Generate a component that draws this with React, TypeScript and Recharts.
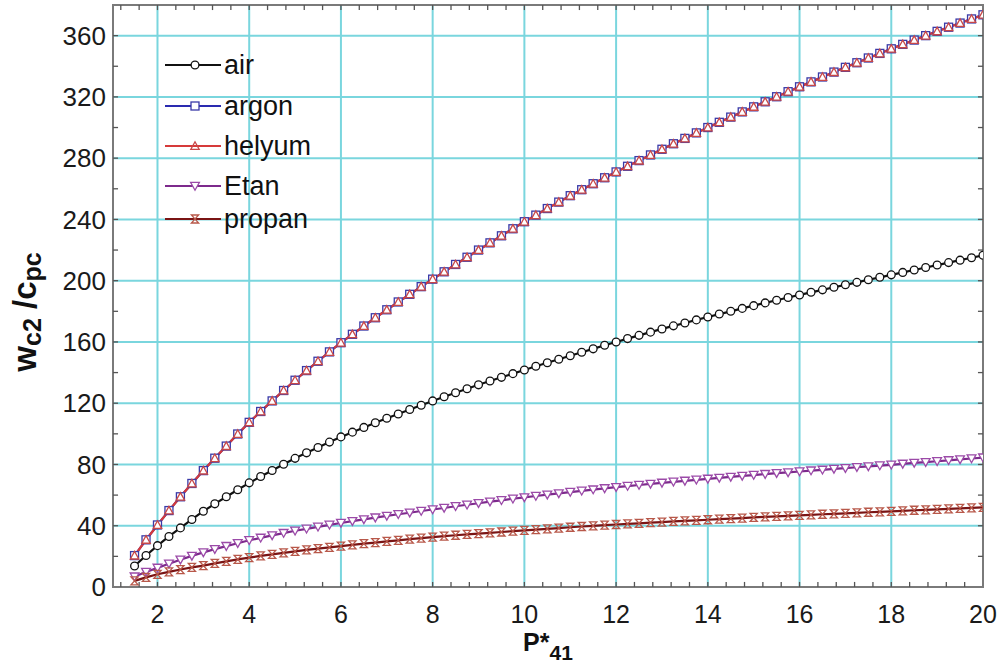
import React from 'react';
import {
  LineChart,
  Line,
  XAxis,
  YAxis,
  CartesianGrid,
  Legend,
  Label,
  ReferenceLine,
  ReferenceArea,
} from 'recharts';

// pressure ratio P*41 (one point every 0.25)
const pressure = [
  1.5, 1.75,
  2, 2.25, 2.5, 2.75,
  3, 3.25, 3.5, 3.75,
  4, 4.25, 4.5, 4.75,
  5, 5.25, 5.5, 5.75,
  6, 6.25, 6.5, 6.75,
  7, 7.25, 7.5, 7.75,
  8, 8.25, 8.5, 8.75,
  9, 9.25, 9.5, 9.75,
  10, 10.25, 10.5, 10.75,
  11, 11.25, 11.5, 11.75,
  12, 12.25, 12.5, 12.75,
  13, 13.25, 13.5, 13.75,
  14, 14.25, 14.5, 14.75,
  15, 15.25, 15.5, 15.75,
  16, 16.25, 16.5, 16.75,
  17, 17.25, 17.5, 17.75,
  18, 18.25, 18.5, 18.75,
  19, 19.25, 19.5, 19.75,
  20,
];

const air = [
  13.7, 20.6,
  27, 33, 38.6, 44.1,
  49.5, 54.3, 58.9, 63.5,
  68, 72.1, 76.1, 80.1,
  84, 87.6, 91.1, 94.6,
  98, 101.1, 104.2, 107.2,
  110.2, 113, 115.9, 118.7,
  121.5, 124.2, 126.8, 129.4,
  132, 134.5, 136.9, 139.3,
  141.7, 144.1, 146.4, 148.7,
  151, 153.3, 155.5, 157.8,
  160, 162.2, 164.3, 166.4,
  168.5, 170.5, 172.4, 174.4,
  176.3, 178.2, 180, 181.9,
  183.7, 185.5, 187.2, 189,
  190.7, 192.4, 194, 195.7,
  197.3, 198.9, 200.6, 202.2,
  203.8, 205.4, 207, 208.6,
  210.2, 211.8, 213.4, 215,
  216.6,
];

const argon = [
  20.5, 30.8,
  40.5, 49.9, 58.9, 67.6,
  76, 84.1, 92, 99.9,
  107.5, 114.6, 121.5, 128.3,
  135, 141.3, 147.4, 153.5,
  159.5, 165, 170.4, 175.8,
  181, 186.1, 191.1, 196.1,
  201, 205.8, 210.6, 215.3,
  220, 224.7, 229.3, 233.9,
  238.5, 242.8, 247.1, 251.3,
  255.5, 259.4, 263.3, 267.2,
  271, 274.7, 278.4, 282.1,
  285.8, 289.4, 292.9, 296.5,
  300, 303.4, 306.8, 310.2,
  313.5, 316.8, 320.1, 323.4,
  326.6, 329.8, 333, 336.2,
  339.3, 342.3, 345.4, 348.4,
  351.4, 354.3, 357.1, 360,
  362.8, 365.5, 368.2, 370.9,
  373.6,
];

const helyum = [
  20.5, 30.8,
  40.5, 49.9, 58.9, 67.6,
  76, 84.1, 92, 99.9,
  107.5, 114.6, 121.5, 128.3,
  135, 141.3, 147.4, 153.5,
  159.5, 165, 170.4, 175.8,
  181, 186.1, 191.1, 196.1,
  201, 205.8, 210.6, 215.3,
  220, 224.7, 229.3, 233.9,
  238.5, 242.8, 247.1, 251.3,
  255.5, 259.4, 263.3, 267.2,
  271, 274.7, 278.4, 282.1,
  285.8, 289.4, 292.9, 296.5,
  300, 303.4, 306.8, 310.2,
  313.5, 316.8, 320.1, 323.4,
  326.6, 329.8, 333, 336.2,
  339.3, 342.3, 345.4, 348.4,
  351.4, 354.3, 357.1, 360,
  362.8, 365.5, 368.2, 370.9,
  373.6,
];

const etan = [
  6.8, 9.8,
  12.5, 15.2, 17.8, 20.3,
  22.6, 24.7, 26.7, 28.6,
  30.5, 32.1, 33.7, 35.2,
  36.7, 38, 39.3, 40.6,
  41.8, 43, 44.1, 45.3,
  46.4, 47.5, 48.5, 49.6,
  50.6, 51.6, 52.7, 53.7,
  54.7, 55.7, 56.6, 57.6,
  58.5, 59.4, 60.3, 61.1,
  62, 62.8, 63.6, 64.4,
  65.2, 65.9, 66.6, 67.3,
  68, 68.7, 69.3, 70,
  70.6, 71.2, 71.9, 72.5,
  73.1, 73.7, 74.3, 74.8,
  75.4, 76, 76.5, 77.1,
  77.6, 78.2, 78.7, 79.3,
  79.8, 80.4, 81, 81.5,
  82.1, 82.7, 83.3, 83.9,
  84.5,
];

const propan = [
  4, 6.3,
  8.3, 9.9, 11.4, 12.8,
  14, 15.4, 16.7, 18,
  19.2, 20.3, 21.3, 22.3,
  23.3, 24.2, 25, 25.9,
  26.7, 27.5, 28.3, 29,
  29.8, 30.5, 31.2, 31.9,
  32.6, 33.2, 33.8, 34.3,
  34.9, 35.4, 35.9, 36.5,
  37, 37.5, 38, 38.5,
  39, 39.5, 39.9, 40.4,
  40.8, 41.2, 41.6, 42,
  42.4, 42.8, 43.2, 43.5,
  43.9, 44.3, 44.7, 45,
  45.4, 45.8, 46.1, 46.5,
  46.8, 47.1, 47.5, 47.8,
  48.1, 48.4, 48.8, 49.1,
  49.4, 49.7, 50.1, 50.4,
  50.7, 51, 51.4, 51.7,
  52,
];

const xTicks = [2, 4, 6, 8, 10, 12, 14, 16, 18, 20];
const yTicks = [0, 40, 80, 120, 160, 200, 240, 280, 320, 360];
const xMinorTicks = [
  1.2, 1.6, 2, 2.4, 2.8, 3.2, 3.6, 4, 4.4, 4.8, 5.2, 5.6, 6, 6.4, 6.8, 7.2,
  7.6, 8, 8.4, 8.8, 9.2, 9.6, 10, 10.4, 10.8, 11.2, 11.6, 12, 12.4, 12.8,
  13.2, 13.6, 14, 14.4, 14.8, 15.2, 15.6, 16, 16.4, 16.8, 17.2, 17.6, 18,
  18.4, 18.8, 19.2, 19.6,
];
const yMinorTicks = [
  20, 40, 60, 80, 100, 120, 140, 160, 180, 200, 220, 240, 260, 280, 300, 320,
  340, 360,
];

const X_MIN = 1.03;
const X_MAX = 20;
const Y_MAX = 380;

const FONT = '"Liberation Sans", Arial, Helvetica, sans-serif';

const rows = pressure.map((p, i) => ({
  p,
  air: air[i],
  argon: argon[i],
  helyum: helyum[i],
  Etan: etan[i],
  propan: propan[i],
}));

type Marker = 'circle' | 'square' | 'triUp' | 'triDown' | 'hourglass';

const drawMarker = (kind: Marker, cx: number, cy: number, color: string, key?: string) => {
  switch (kind) {
    case 'circle':
      return <circle key={key} cx={cx} cy={cy} r={3.9} fill="#fff" stroke={color} strokeWidth={1.3} />;
    case 'square':
      return (
        <rect key={key} x={cx - 4} y={cy - 4} width={8} height={8} fill="#fff" stroke={color} strokeWidth={1.3} />
      );
    case 'triUp':
      return (
        <path
          key={key}
          d={`M${cx - 4.2},${cy + 3.4} L${cx + 4.2},${cy + 3.4} L${cx},${cy - 4.2} Z`}
          fill="none"
          stroke={color}
          strokeWidth={1.3}
        />
      );
    case 'triDown':
      return (
        <path
          key={key}
          d={`M${cx - 4.4},${cy - 3.6} L${cx + 4.4},${cy - 3.6} L${cx},${cy + 4.2} Z`}
          fill="#fff"
          stroke={color}
          strokeWidth={1.3}
        />
      );
    default:
      return (
        <path
          key={key}
          d={`M${cx - 3.6},${cy - 4} L${cx + 3.6},${cy - 4} L${cx - 3.6},${cy + 4} L${cx + 3.6},${cy + 4} Z`}
          fill="none"
          stroke={color}
          strokeWidth={1.3}
        />
      );
  }
};

const series = [
  { key: 'air', line: '#111111', mark: '#111111', marker: 'circle' as Marker },
  { key: 'argon', line: '#2a2ab0', mark: '#3a3aa8', marker: 'square' as Marker },
  { key: 'helyum', line: '#d63a3a', mark: '#c84848', marker: 'triUp' as Marker },
  { key: 'Etan', line: '#7d2a8c', mark: '#9b4aa8', marker: 'triDown' as Marker },
  { key: 'propan', line: '#7a1414', mark: '#b8584a', marker: 'hourglass' as Marker },
];

// legend rows (offsets inside the legend box)
const legendRowY = [20, 61, 101, 141, 174];

const LegendBox = () => (
  <svg width={210} height={195} style={{ display: 'block' }}>
    {series.map((s, i) => {
      const y = legendRowY[i];
      return (
        <g key={s.key}>
          <line x1={5} x2={61} y1={y} y2={y} stroke={s.line} strokeWidth={2.2} />
          {drawMarker(s.marker, 35, y, s.mark)}
          <text x={64} y={y + 9} fontSize={27} fontFamily={FONT} fill="#111">
            {s.key}
          </text>
        </g>
      );
    })}
  </svg>
);

const XTitle = (props: any) => {
  const vb = props.viewBox || { x: 113, y: 587, width: 870 };
  const cx = vb.x + vb.width / 2;
  return (
    <text x={cx} y={vb.y + 64} textAnchor="middle" fontFamily={FONT} fontWeight="bold" fill="#111">
      <tspan fontSize={25}>P*</tspan>
      <tspan fontSize={21} dy={9}>41</tspan>
    </text>
  );
};

const YTitle = (props: any) => {
  const vb = props.viewBox || { x: 0, y: 5, width: 113, height: 582 };
  const cx = vb.x + 36;
  const cy = vb.y + vb.height / 2 + 16;
  return (
    <text
      x={cx}
      y={cy}
      transform={`rotate(-90 ${cx} ${cy})`}
      textAnchor="middle"
      fontFamily={FONT}
      fontWeight="bold"
      fill="#111"
    >
      <tspan fontSize={33}>w</tspan>
      <tspan fontSize={25} dy={5}>c2</tspan>
      <tspan fontSize={33} dy={-5}> /c</tspan>
      <tspan fontSize={25} dy={5}>pc</tspan>
    </text>
  );
};

const App = () => {
  return (
    <div style={{ position: 'absolute', left: 0, top: 0, background: '#fff' }}>
      <LineChart
        width={1001}
        height={671}
        data={rows}
        margin={{ top: 5, right: 18, bottom: 0, left: 0 }}
      >
        <CartesianGrid stroke="#7ad6de" strokeWidth={2} />
        <XAxis
          dataKey="p"
          type="number"
          domain={[X_MIN, X_MAX]}
          ticks={xTicks}
          allowDataOverflow
          height={84}
          axisLine={false}
          tickLine={false}
          tickSize={0}
          tickMargin={18}
          tick={{ fontSize: 25, fill: '#1a1a1a', fontFamily: FONT }}
        >
          <Label content={XTitle} />
        </XAxis>
        <YAxis
          type="number"
          domain={[0, Y_MAX]}
          ticks={yTicks}
          allowDataOverflow
          width={113}
          axisLine={false}
          tickLine={false}
          tickSize={0}
          tickMargin={7}
          tick={{ fontSize: 26, fill: '#1a1a1a', fontFamily: FONT }}
        >
          <Label content={YTitle} />
        </YAxis>

        {/* plot frame */}
        <ReferenceArea x1={X_MIN} x2={X_MAX} y1={0} y2={Y_MAX} fill="none" stroke="#7a7a7a" strokeWidth={2} />

        {/* minor ticks, pointing inward */}
        {xMinorTicks.map((t) => (
          <ReferenceLine
            key={`xb-${t}`}
            segment={[{ x: t, y: 0 }, { x: t, y: 3.3 }]}
            stroke="#555"
            strokeWidth={1.3}
          />
        ))}
        {xMinorTicks.map((t) => (
          <ReferenceLine
            key={`xt-${t}`}
            segment={[{ x: t, y: Y_MAX }, { x: t, y: Y_MAX - 3.3 }]}
            stroke="#555"
            strokeWidth={1.3}
          />
        ))}
        {yMinorTicks.map((t) => (
          <ReferenceLine
            key={`yl-${t}`}
            segment={[{ x: X_MIN, y: t }, { x: X_MIN + 0.11, y: t }]}
            stroke="#555"
            strokeWidth={1.3}
          />
        ))}
        {yMinorTicks.map((t) => (
          <ReferenceLine
            key={`yr-${t}`}
            segment={[{ x: X_MAX, y: t }, { x: X_MAX - 0.11, y: t }]}
            stroke="#555"
            strokeWidth={1.3}
          />
        ))}

        <Legend
          layout="vertical"
          align="center"
          verticalAlign="middle"
          content={() => <LegendBox />}
          wrapperStyle={{ left: 160, top: 45, width: 210, height: 195 }}
        />

        {series.map((s) => (
          <Line
            key={s.key}
            dataKey={s.key}
            type="linear"
            stroke={s.line}
            strokeWidth={2.2}
            isAnimationActive={false}
            dot={(props: any) =>
              drawMarker(s.marker, props.cx, props.cy, s.mark, `${s.key}-${props.index}`)
            }
            activeDot={false}
          />
        ))}
      </LineChart>
    </div>
  );
};

export default App;
